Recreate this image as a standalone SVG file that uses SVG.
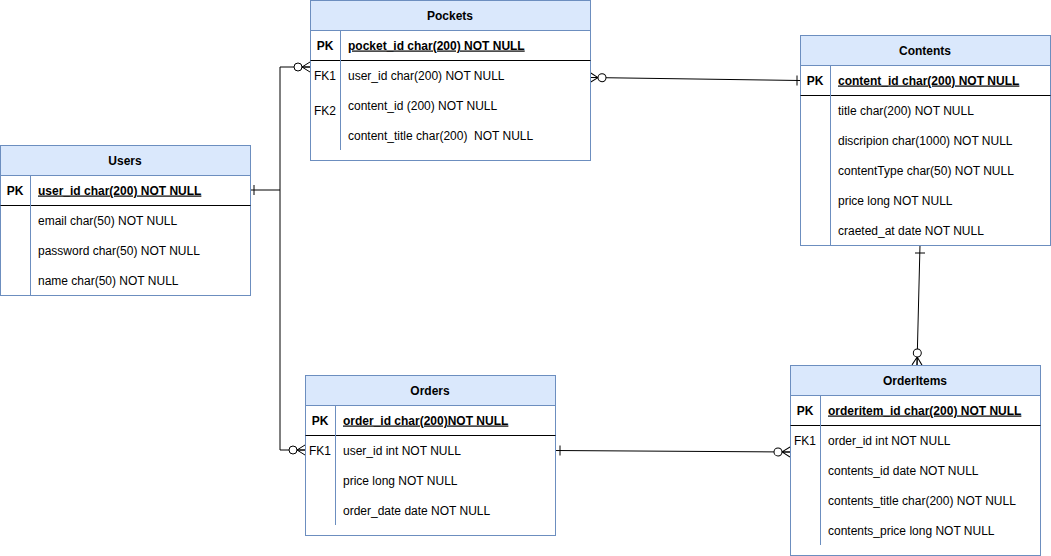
<svg xmlns="http://www.w3.org/2000/svg" width="1051" height="556" viewBox="0 0 1051 556">
<style>
text{font-family:"Liberation Sans",Arial,Helvetica,sans-serif;font-size:12px;fill:#000}
.hd{fill:#dae8fc;stroke:#6c8ebf}
.bx{fill:#fff;stroke:#6c8ebf}
.dv{stroke:#6c8ebf;fill:none}
.sep{stroke:#000;fill:none}
.t{font-weight:bold;text-anchor:middle}
.pk{font-weight:bold;text-decoration:underline}
.k{text-anchor:middle}
.kb{text-anchor:middle;font-weight:bold}
.c{stroke:#000;fill:none;stroke-width:1}
</style>
<defs>
<marker id="zm" viewBox="-20 -8 22 16" markerWidth="22" markerHeight="16" refX="0" refY="0" orient="auto" markerUnits="userSpaceOnUse" overflow="visible">
<path d="M-8 0L0-5M-8 0L0 0M-8 0L0 5" stroke="#000" fill="none"/>
<circle cx="-12" cy="0" r="4" fill="#fff" stroke="#000"/>
</marker>
<marker id="zms" viewBox="-20 -8 22 16" markerWidth="22" markerHeight="16" refX="0" refY="0" orient="auto-start-reverse" markerUnits="userSpaceOnUse" overflow="visible">
<path d="M-8 0L0-5M-8 0L0 0M-8 0L0 5" stroke="#000" fill="none"/>
<circle cx="-12" cy="0" r="4" fill="#fff" stroke="#000"/>
</marker>
</defs>

<g id="connectors">
<path class="c" d="M250 190H280V67H310" marker-end="url(#zm)"/>
<path class="c" d="M280 190V450H305" marker-end="url(#zm)"/>
<path class="c" d="M254 185V195"/>
<path class="c" d="M590 77.5L800 80.5" marker-start="url(#zms)"/>
<path class="c" d="M797 75.5V85.5"/>
<path class="c" d="M555 450.5L790 452" marker-end="url(#zm)"/>
<path class="c" d="M560 445.5V455.5"/>
<path class="c" d="M920 245L917 365" marker-end="url(#zm)"/>
<path class="c" d="M915 253H925"/>
</g>

<g id="pockets">
<rect class="bx" x="310.5" y="0.5" width="280" height="160"/>
<rect class="hd" x="310.5" y="0.5" width="280" height="30"/>
<path class="sep" d="M310.5 60.5H590.5"/>
<path class="dv" d="M340.5 30.5V150"/>
<text class="t" x="450" y="19.5">Pockets</text>
<text class="kb" x="325" y="49.5">PK</text>
<text class="pk" x="348" y="49.5">pocket_id char(200) NOT NULL</text>
<text class="k" x="325" y="79.5">FK1</text>
<text x="348" y="79.5">user_id char(200) NOT NULL</text>
<text class="k" x="325" y="114.5">FK2</text>
<text x="348" y="109.5">content_id (200) NOT NULL</text>
<text x="348" y="139.5" xml:space="preserve">content_title char(200)  NOT NULL</text>
</g>

<g id="contents">
<rect class="bx" x="800.5" y="35.5" width="250" height="210"/>
<rect class="hd" x="800.5" y="35.5" width="250" height="30"/>
<path class="sep" d="M800.5 95.5H1050.5"/>
<path class="dv" d="M830.5 65.5V245.5"/>
<text class="t" x="925" y="54.5">Contents</text>
<text class="kb" x="815" y="84.5">PK</text>
<text class="pk" x="838" y="84.5">content_id char(200) NOT NULL</text>
<text x="838" y="114.5">title char(200) NOT NULL</text>
<text x="838" y="144.5">discripion char(1000) NOT NULL</text>
<text x="838" y="174.5">contentType char(50) NOT NULL</text>
<text x="838" y="204.5">price long NOT NULL</text>
<text x="838" y="234.5">craeted_at date NOT NULL</text>
</g>

<g id="users">
<rect class="bx" x="0.5" y="145.5" width="250" height="150"/>
<rect class="hd" x="0.5" y="145.5" width="250" height="30"/>
<path class="sep" d="M0.5 205.5H250.5"/>
<path class="dv" d="M30.5 175.5V295.5"/>
<text class="t" x="125" y="164.5">Users</text>
<text class="kb" x="15" y="194.5">PK</text>
<text class="pk" x="38" y="194.5">user_id char(200) NOT NULL</text>
<text x="38" y="224.5">email char(50) NOT NULL</text>
<text x="38" y="254.5">password char(50) NOT NULL</text>
<text x="38" y="284.5">name char(50) NOT NULL</text>
</g>

<g id="orders">
<rect class="bx" x="305.5" y="375.5" width="250" height="160"/>
<rect class="hd" x="305.5" y="375.5" width="250" height="30"/>
<path class="sep" d="M305.5 435.5H555.5"/>
<path class="dv" d="M335.5 405.5V525"/>
<text class="t" x="430" y="394.5">Orders</text>
<text class="kb" x="320" y="424.5">PK</text>
<text class="pk" x="343" y="424.5">order_id char(200)NOT NULL</text>
<text class="k" x="320" y="454.5">FK1</text>
<text x="343" y="454.5">user_id int NOT NULL</text>
<text x="343" y="484.5">price long NOT NULL</text>
<text x="343" y="514.5">order_date date NOT NULL</text>
</g>

<g id="orderitems">
<rect class="bx" x="790.5" y="365.5" width="250" height="190"/>
<rect class="hd" x="790.5" y="365.5" width="250" height="30"/>
<path class="sep" d="M790.5 425.5H1040.5"/>
<path class="dv" d="M820.5 395.5V545"/>
<text class="t" x="915" y="384.5">OrderItems</text>
<text class="kb" x="805" y="414.5">PK</text>
<text class="pk" x="828" y="414.5">orderitem_id char(200) NOT NULL</text>
<text class="k" x="805" y="444.5">FK1</text>
<text x="828" y="444.5">order_id int NOT NULL</text>
<text x="828" y="474.5">contents_id date NOT NULL</text>
<text x="828" y="504.5">contents_title char(200) NOT NULL</text>
<text x="828" y="534.5">contents_price long NOT NULL</text>
</g>
</svg>
